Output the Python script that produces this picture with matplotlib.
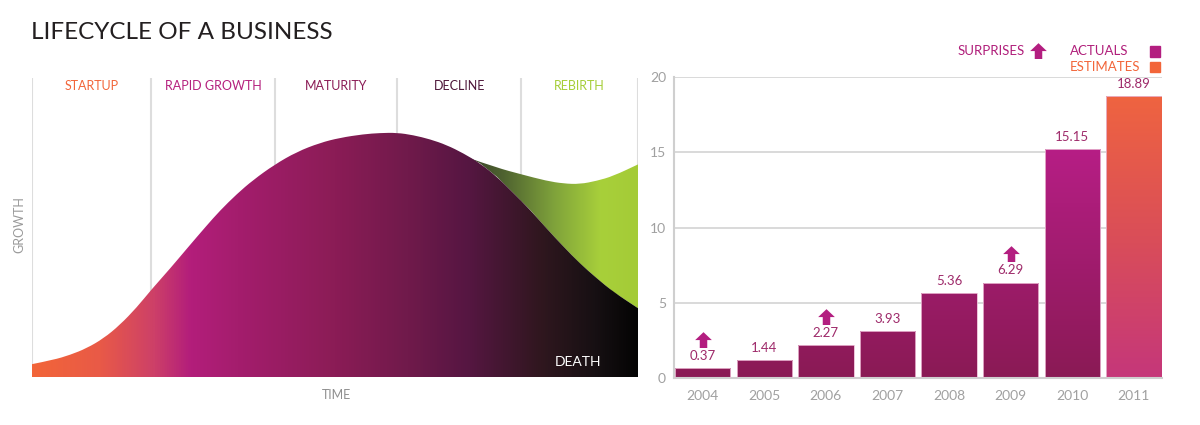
import numpy as np
import matplotlib
matplotlib.use("Agg")
import matplotlib.pyplot as plt
from matplotlib.path import Path
from matplotlib.patches import PathPatch, Rectangle
from matplotlib.colors import LinearSegmentedColormap
from matplotlib.lines import Line2D
import matplotlib.transforms as mtransforms

plt.rcParams['font.family'] = ['Lato', 'DejaVu Sans']

# ---- left panel: lifecycle curve (time 0-100, growth 0-100) ----
stages = ['STARTUP', 'RAPID GROWTH', 'MATURITY', 'DECLINE', 'REBIRTH']
stage_colors = ['#F26539', '#B5217E', '#8B1C56', '#4D1639', '#A6CE39']
stage_edges = [0, 19.6, 40.1, 60.3, 80.7, 100]

curve_t = [0, 3.5, 6.3, 9.0, 11.8, 14.5, 17.3, 19.6, 22.8, 25.5, 28.8, 31.0,
           33.8, 36.5, 40.0, 43.7, 47.5, 50.8, 54.7, 57.4, 60.2, 62.9, 65.7,
           68.4, 71.2, 73.9, 76.7, 79.4, 82.2, 84.9, 87.7, 90.4, 93.2, 95.9, 100]
curve_g = [4.3, 5.7, 7.4, 9.6, 12.9, 17.4, 23.3, 29.0, 36.3, 42.8, 50.6, 55.6,
           61.2, 65.9, 71.0, 75.3, 78.3, 80.0, 81.2, 81.6, 81.7, 80.9, 79.5,
           77.6, 74.8, 71.5, 67.0, 61.6, 55.9, 49.7, 43.6, 38.0, 33.0, 28.5, 23.0]

rebirth_t = [72.3, 76.7, 80.7, 84.9, 87.7, 90.4, 93.2, 95.9, 100]
rebirth_g = [73.1, 70.0, 67.8, 65.6, 64.7, 64.5, 65.6, 67.2, 71.1]

# ---- right panel: earnings per share ----
years = ['2004', '2005', '2006', '2007', '2008', '2009', '2010', '2011']
bar_height = [0.62, 1.15, 2.16, 3.10, 5.64, 6.33, 15.22, 18.76]
bar_label = ['0.37', '1.44', '2.27', '3.93', '5.36', '6.29', '15.15', '18.89']
is_estimate = [False, False, False, False, False, False, False, True]
surprise = [True, False, True, False, False, True, False, False]


def smooth_path(pts, closing):
    # quadratic bezier through the read points (points act as control points)
    verts = [pts[0]]
    codes = [Path.MOVETO]
    for i in range(1, len(pts) - 1):
        mid = ((pts[i][0] + pts[i + 1][0]) / 2, (pts[i][1] + pts[i + 1][1]) / 2)
        verts += [pts[i], mid]
        codes += [Path.CURVE3, Path.CURVE3]
    verts.append(pts[-1])
    codes.append(Path.LINETO)
    for p in closing:
        verts.append(p)
        codes.append(Path.LINETO)
    verts.append(pts[0])
    codes.append(Path.CLOSEPOLY)
    return Path(verts, codes)


fig = plt.figure(figsize=(12, 4.25), dpi=100)
W, H = 1200, 425

# title
fig.text(31 / W, 1 - 32.5 / H, 'LIFECYCLE OF A BUSINESS', fontsize=17.5,
         fontweight='normal', color='#231F20', va='center', ha='left')

# ================= left panel =================
ax1 = fig.add_axes([32 / W, 48 / H, 606 / W, 299 / H])
ax1.set_xlim(0, 100)
ax1.set_ylim(0, 100)
ax1.axis('off')

ax1.vlines(stage_edges, 0, 100, color='#DDDDDD', lw=1.5, zorder=1)
ax1.hlines(0, 0, 100, color='#DDDDDD', lw=1.5, zorder=1)

main_pts = list(zip(curve_t, curve_g))

# green rebirth region: top is the rebirth curve, bottom the falling main curve
main_tail = [(t, g) for t, g in zip(curve_t, curve_g) if t > rebirth_t[0]]
green_path = smooth_path(list(zip(rebirth_t, rebirth_g)), main_tail[::-1])
green_patch = PathPatch(green_path, facecolor='none', edgecolor='none')
ax1.add_patch(green_patch)
green_cmap = LinearSegmentedColormap.from_list('g', [
    (0.0, '#3A4429'), (0.2, '#4F6330'), (0.5, '#7FA23B'),
    (0.78, '#A8D03A'), (1.0, '#A4CB37')])
gimg = ax1.imshow(np.linspace(0, 1, 256).reshape(1, -1), cmap=green_cmap,
                  extent=[rebirth_t[0], 100, 0, 100], aspect='auto', zorder=2)
gimg.set_clip_path(green_patch)

# main lifecycle shape
main_path = smooth_path(main_pts, [(100, 0), (0, 0)])
main_patch = PathPatch(main_path, facecolor='none', edgecolor='none')
ax1.add_patch(main_patch)
main_cmap = LinearSegmentedColormap.from_list('m', [
    (0.0, '#F26539'), (0.11, '#E95A47'), (0.20, '#CD4068'), (0.26, '#B31E7B'),
    (0.34, '#A41D6D'), (0.50, '#8B1C56'), (0.62, '#701A4B'), (0.72, '#561642'),
    (0.84, '#30171F'), (0.93, '#171013'), (1.0, '#040404')])
mimg = ax1.imshow(np.linspace(0, 1, 512).reshape(1, -1), cmap=main_cmap,
                  extent=[0, 100, 0, 100], aspect='auto', zorder=3)
mimg.set_clip_path(main_patch)

for i, name in enumerate(stages):
    cx = (stage_edges[i] + stage_edges[i + 1]) / 2
    ax1.text(cx, 97.3, name, ha='center', va='center', fontsize=9,
             color=stage_colors[i], zorder=4)

ax1.text(90.1, 5.1, 'DEATH', ha='center', va='center', fontsize=10,
         color='white', zorder=4)

fig.text(19 / W, 1 - 225 / H, 'GROWTH', rotation=90, ha='center', va='center',
         fontsize=9, color='#9A9A9A')
fig.text(336 / W, 1 - 395 / H, 'TIME', ha='center', va='center',
         fontsize=9, color='#8F8F8F')

# ================= right panel =================
ax2 = fig.add_axes([674.3 / W, 47.3 / H, 487.4 / W, 300.4 / H])
x = np.arange(len(years))
ax2.set_yticks([0, 5, 10, 15, 20])
ax2.set_xticks(x)
ax2.set_xticklabels(years)
ax2.tick_params(length=0, labelsize=10, labelcolor='#A0A0A0')
ax2.tick_params(axis='y', pad=6)
ax2.tick_params(axis='x', pad=9)
ax2.grid(axis='y', color='#D3D3D3', lw=1.2)
ax2.set_axisbelow(True)
for s in ['top', 'right']:
    ax2.spines[s].set_visible(False)
for s in ['left', 'bottom']:
    ax2.spines[s].set_color('#CFCFCF')
    ax2.spines[s].set_linewidth(1.5)

act_cmap = LinearSegmentedColormap.from_list('a', ['#8A1A55', '#B71E86'])
est_cmap = LinearSegmentedColormap.from_list('e', ['#C5377A', '#DA4E58', '#EF6440'])

bars = ax2.bar(x, bar_height, width=0.9, facecolor='none',
               edgecolor='#E9B9D2', lw=0.6, zorder=3)
for xi, b, est in zip(x, bars, is_estimate):
    grad = np.linspace(0, 20, 256).reshape(-1, 1)
    if est:
        img = ax2.imshow(grad, cmap=est_cmap, vmin=0, vmax=18.9, origin='lower',
                         extent=[xi - 0.5, xi + 0.5, 0, 20], aspect='auto', zorder=2)
    else:
        img = ax2.imshow(grad, cmap=act_cmap, vmin=0, vmax=15.5, origin='lower',
                         extent=[xi - 0.5, xi + 0.5, 0, 20], aspect='auto', zorder=2)
    img.set_clip_path(b)
ax2.set_xlim(-0.46, 7.45)
ax2.set_ylim(0, 20)

for xi, h, lab in zip(x, bar_height, bar_label):
    ax2.annotate(lab, (xi, h), xytext=(0, 4.5), textcoords='offset points',
                 ha='center', va='bottom', fontsize=9.5, color='#9E2A6A')

arrow = Path([(-1, 0.05), (0, 1), (1, 0.05), (0.45, 0.05), (0.45, -0.9),
              (-0.45, -0.9), (-0.45, 0.05), (-1, 0.05)],
             [Path.MOVETO] + [Path.LINETO] * 6 + [Path.CLOSEPOLY])
trans = mtransforms.offset_copy(ax2.transData, fig=fig, x=0, y=20.5, units='points')
sx = [xi for xi, s in zip(x, surprise) if s]
sh = [h for h, s in zip(bar_height, surprise) if s]
ax2.plot(sx, sh, transform=trans, ls='none', marker=arrow, ms=12,
         color='#B31E80', mec='none', clip_on=False, zorder=4)

# legend
fig.text(1024.5 / W, 1 - 51 / H, 'SURPRISES', ha='right', va='center',
         fontsize=9.5, color='#B01E7A')
fig.add_artist(Line2D([1038 / W], [1 - 50.5 / H], transform=fig.transFigure,
                      marker=arrow, ms=12, color='#B31E80', mec='none', ls='none'))
fig.text(1070 / W, 1 - 51 / H, 'ACTUALS', ha='left', va='center',
         fontsize=9.5, color='#B01E7A')
fig.text(1070 / W, 1 - 67 / H, 'ESTIMATES', ha='left', va='center',
         fontsize=9.5, color='#F26539')
fig.add_artist(Rectangle((1149.5 / W, 1 - 56.5 / H), 10.5 / W, 10.5 / H,
                         transform=fig.transFigure, color='#B31E80'))
fig.add_artist(Rectangle((1149.5 / W, 1 - 72 / H), 10.5 / W, 10.5 / H,
                         transform=fig.transFigure, color='#F26539'))

fig.savefig('out.png', dpi=100)
